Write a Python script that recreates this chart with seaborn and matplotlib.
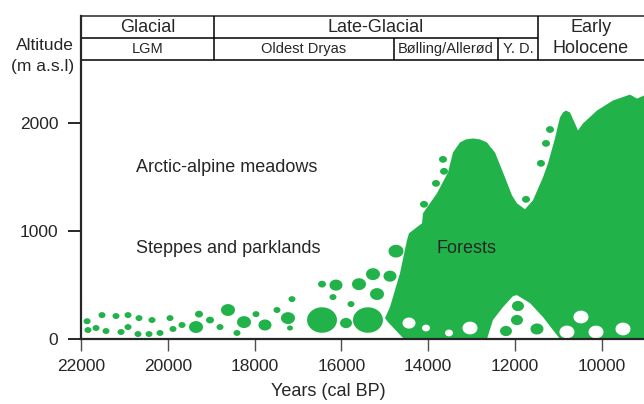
import numpy as np
import pandas as pd
import matplotlib
matplotlib.use("Agg")
import matplotlib.pyplot as plt
import seaborn as sns

#################### CONFIG ####################
sns.set_style("ticks")
plt.rcParams["font.family"] = ["Liberation Sans", "DejaVu Sans"]
plt.rcParams["font.size"] = 12.5

GREEN = "#21b34a"

#################### DATA ####################
# forest envelope (years cal BP, altitude m)
forest_years = [14558, 14927, 14996, 14881, 14650, 14489, 14443, 14143, 14120,
                13798, 13544, 13429, 13268, 13130, 12968, 12807, 12646, 12577,
                12461, 12231, 12070, 11955, 11770, 11586, 11356, 11240, 11079,
                11010, 10964, 10895, 10826, 10733, 10618, 10549, 10434, 10111,
                9743, 9351, 9190, 9028, 9028]
forest_alts = [0, 157, 194, 296, 611, 917, 981, 1074, 1167,
               1352, 1546, 1731, 1824, 1852, 1861, 1852, 1824, 1787,
               1731, 1500, 1333, 1259, 1204, 1287, 1500, 1630, 1861,
               1981, 2056, 2102, 2120, 2102, 2000, 1935, 2000, 2120,
               2213, 2268, 2231, 2259, 0]

# open gap under the forest around the Younger Dryas
gap_years = [12646, 12508, 12277, 12047, 11955, 11655, 11356, 11125, 10964]
gap_alts = [0, 176, 296, 398, 407, 333, 204, 83, 0]

# steppe / parkland patches (year, altitude, diameter px)
patch_years = [21860, 21840, 21654, 21516, 21424, 21194, 21078, 20917, 20917,
               20664, 20687, 20433, 20364, 20180, 19949, 19880, 19673, 19350,
               19281, 19028, 18797, 18613, 18406, 18244, 17968, 17761, 17484,
               17231, 17139, 17185, 16447, 16447, 16125, 16194, 15779, 15595,
               15894, 15388, 15180, 15272, 14881, 14742, 14097, 13821, 13636,
               13660, 11747, 11402, 11286, 11194,
               11932, 11955, 12208, 11494]
patch_alts = [165, 83, 102, 222, 74, 213, 65, 222, 111,
              194, 46, 46, 176, 56, 194, 93, 130, 111,
              231, 176, 111, 269, 56, 157, 231, 130, 269,
              194, 370, 102, 509, 176, 500, 389, 324, 509,
              148, 176, 417, 602, 583, 815, 1250, 1444, 1556,
              1667, 1296, 1630, 1815, 1944,
              306, 176, 74, 93]
patch_size = [7, 7, 7, 7, 7, 7, 7, 7, 7,
              7, 7, 7, 7, 7, 7, 7, 7, 14,
              8, 8, 7, 14, 7, 14, 7, 13, 7,
              14, 7, 6, 8, 30, 13, 7, 7, 14,
              12, 30, 14, 14, 13, 15, 8, 8, 8,
              8, 8, 8, 8, 8,
              12, 12, 12, 13]

# open clearings inside the forest
clear_years = [14443, 14051, 13521, 13037, 10803, 10480, 10134, 9512]
clear_alts = [148, 102, 56, 102, 65, 204, 65, 93]
clear_size = [13, 8, 8, 15, 15, 15, 15, 15]

# period header
bounds = [22000, 18935, 14790, 12390, 11470, 9028]
top_periods = ["Glacial", "Late-Glacial"]
sub_periods = ["LGM", "Oldest Dryas", "Bølling/Allerød", "Y. D."]

x_ticks = [22000, 20000, 18000, 16000, 14000, 12000, 10000]
y_ticks = [0, 1000, 2000]

df_patch = pd.DataFrame({"year": patch_years, "alt": patch_alts,
                         "s": (np.array(patch_size) * 0.72) ** 2})
df_clear = pd.DataFrame({"year": clear_years, "alt": clear_alts,
                         "s": (np.array(clear_size) * 0.72) ** 2})

# slightly flattened ellipse marker
t = np.linspace(0, 2 * np.pi, 40)
ell = list(zip(np.cos(t), 0.85 * np.sin(t)))

#################### PLOT ####################
fig = plt.figure(figsize=(6.44, 4.04), dpi=100)
ax = fig.add_axes([81 / 644, 65 / 404, 563 / 644, (339 - 15.7) / 404])

ax.fill(forest_years, forest_alts, color=GREEN, lw=0, zorder=1)
ax.fill(gap_years, gap_alts, color="white", lw=0, zorder=2)

sns.scatterplot(data=df_patch, x="year", y="alt", s=df_patch["s"], marker=ell,
                color=GREEN, edgecolor="none", linewidth=0, ax=ax, zorder=3,
                legend=False)
sns.scatterplot(data=df_clear, x="year", y="alt", s=df_clear["s"], marker=ell,
                color="white", edgecolor="none", linewidth=0, ax=ax, zorder=3,
                legend=False)

ax.set_xlim(22000, 9028)
ax.set_ylim(0, 3000)
ax.set_xticks(x_ticks)
ax.set_yticks(y_ticks)
ax.set_xlabel("")
ax.set_ylabel("")
ax.tick_params(axis="x", length=8.3, width=1.0, pad=6, color="0.3", labelsize=12.5)
ax.tick_params(axis="y", length=9.4, width=1.4, pad=7, labelsize=12.5)
sns.despine(ax=ax, right=True, top=False)
for side in ["left", "bottom"]:
    ax.spines[side].set_linewidth(1.6)
ax.spines["top"].set_linewidth(1.1)
ax.spines["left"].set_zorder(5)
ax.spines["bottom"].set_zorder(5)

# header table
y_bot, y_mid, y_top = 2593, 2796, 3000
lw = 1.1
ax.hlines(y_bot, bounds[0], bounds[-1], color="k", lw=lw, zorder=5)
ax.hlines(y_mid, bounds[0], bounds[4], color="k", lw=lw, zorder=5)
ax.vlines([bounds[1], bounds[4]], y_bot, y_top, color="k", lw=lw, zorder=5)
ax.vlines([bounds[2], bounds[3]], y_bot, y_mid, color="k", lw=lw, zorder=5)

top_spans = [(bounds[0], bounds[1]), (bounds[1], bounds[4])]
for name, (a, b) in zip(top_periods, top_spans):
    ax.text((a + b) / 2, 2894, name, ha="center", va="center", size=13)
for i, name in enumerate(sub_periods):
    ax.text((bounds[i] + bounds[i + 1]) / 2, 2694, name, ha="center",
            va="center", size=10.5)
hx = (bounds[4] + bounds[5]) / 2
ax.text(hx, 2889, "Early", ha="center", va="center", size=13)
ax.text(hx, 2694, "Holocene", ha="center", va="center", size=13)

# vegetation labels
ax.text(20733, 1593, "Arctic-alpine meadows", ha="left", va="center", size=13)
ax.text(20733, 843, "Steppes and parklands", ha="left", va="center", size=13)
ax.text(13820, 843, "Forests", ha="left", va="center", size=13, zorder=6)

fig.text(74 / 644, 1 - 45 / 404, "Altitude", ha="right", va="center", size=12.5)
fig.text(74 / 644, 1 - 66 / 404, "(m a.s.l)", ha="right", va="center", size=12.5)
fig.text(328 / 644, 1 - 392 / 404, "Years (cal BP)", ha="center", va="center",
         size=13)

plt.savefig("out.png", dpi=100, facecolor="white")
